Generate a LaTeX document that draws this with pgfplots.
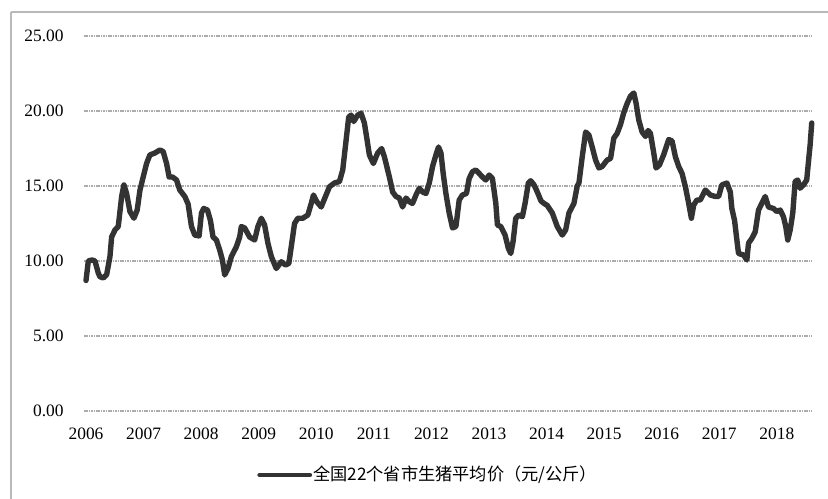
\documentclass[border=0pt]{standalone}
\usepackage{pgfplots}
\pgfplotsset{compat=1.18}
\usepackage{fontspec}
\setmainfont{Liberation Serif}
\newfontfamily\cjk{Noto Sans CJK SC}

% national average live-hog price, 22 provinces (yuan/kg)
\pgfplotstableread{
year     price
2006.000 8.70
2006.040 10.00
2006.104 10.07
2006.156 10.00
2006.213 9.20
2006.243 8.95
2006.300 8.87
2006.359 9.10
2006.416 10.30
2006.445 11.60
2006.503 12.07
2006.560 12.30
2006.619 14.30
2006.659 15.07
2006.705 14.50
2006.763 13.30
2006.832 12.85
2006.889 13.40
2006.936 14.70
2006.993 15.60
2007.052 16.50
2007.109 17.07
2007.196 17.20
2007.282 17.40
2007.340 17.30
2007.399 16.50
2007.444 15.60
2007.503 15.60
2007.572 15.40
2007.629 14.73
2007.716 14.30
2007.773 13.80
2007.832 12.30
2007.889 11.73
2007.964 11.67
2008.005 13.20
2008.045 13.50
2008.109 13.40
2008.161 12.70
2008.206 11.60
2008.265 11.40
2008.322 10.73
2008.369 10.07
2008.409 9.07
2008.466 9.50
2008.525 10.30
2008.612 10.95
2008.669 11.60
2008.698 12.30
2008.756 12.20
2008.842 11.60
2008.929 11.40
2008.986 12.30
2009.045 12.85
2009.102 12.40
2009.159 11.20
2009.218 10.30
2009.305 9.50
2009.392 9.95
2009.466 9.73
2009.523 9.84
2009.565 10.95
2009.622 12.50
2009.679 12.85
2009.766 12.85
2009.853 13.07
2009.912 13.84
2009.951 14.40
2010.009 13.95
2010.085 13.60
2010.159 14.30
2010.229 14.95
2010.315 15.20
2010.402 15.30
2010.459 16.07
2010.518 18.07
2010.563 19.60
2010.605 19.73
2010.650 19.30
2010.719 19.73
2010.778 19.84
2010.835 19.20
2010.882 18.07
2010.922 17.07
2010.991 16.50
2011.066 17.20
2011.135 17.50
2011.182 16.95
2011.239 16.07
2011.269 15.60
2011.326 14.60
2011.385 14.30
2011.442 14.20
2011.499 13.60
2011.558 14.20
2011.615 13.95
2011.672 13.84
2011.731 14.40
2011.789 14.85
2011.846 14.60
2011.905 14.50
2011.962 15.20
2012.019 16.30
2012.078 17.07
2012.123 17.60
2012.165 17.20
2012.205 15.80
2012.251 14.50
2012.308 13.20
2012.366 12.20
2012.425 12.30
2012.482 14.07
2012.539 14.40
2012.608 14.50
2012.655 15.50
2012.712 15.95
2012.771 16.07
2012.828 15.84
2012.886 15.60
2012.944 15.40
2013.002 15.73
2013.059 15.50
2013.118 13.84
2013.146 12.40
2013.204 12.30
2013.279 11.73
2013.336 10.84
2013.378 10.50
2013.418 11.30
2013.464 12.85
2013.522 13.07
2013.579 12.95
2013.626 13.84
2013.683 15.20
2013.724 15.35
2013.782 15.07
2013.839 14.60
2013.903 14.00
2013.955 13.84
2014.012 13.70
2014.099 13.20
2014.185 12.30
2014.272 11.73
2014.331 12.07
2014.388 13.20
2014.475 13.84
2014.532 15.00
2014.562 15.20
2014.619 16.95
2014.678 18.60
2014.735 18.40
2014.792 17.60
2014.851 16.73
2014.908 16.20
2014.965 16.30
2015.052 16.73
2015.111 16.84
2015.168 18.20
2015.225 18.50
2015.284 19.10
2015.341 19.90
2015.399 20.50
2015.458 21.00
2015.515 21.20
2015.555 20.50
2015.601 19.40
2015.659 18.60
2015.718 18.30
2015.763 18.70
2015.804 18.50
2015.861 17.20
2015.901 16.20
2015.960 16.40
2016.035 17.10
2016.121 18.10
2016.179 18.00
2016.237 16.95
2016.295 16.30
2016.352 15.84
2016.411 14.95
2016.468 13.84
2016.515 12.85
2016.555 13.73
2016.612 14.07
2016.671 14.07
2016.757 14.73
2016.844 14.40
2016.931 14.30
2016.988 14.30
2017.045 15.07
2017.132 15.20
2017.191 14.60
2017.218 13.50
2017.265 12.70
2017.305 11.40
2017.334 10.50
2017.421 10.40
2017.478 10.07
2017.508 11.20
2017.565 11.50
2017.624 11.95
2017.681 13.40
2017.738 13.84
2017.797 14.30
2017.854 13.60
2017.941 13.50
2017.998 13.30
2018.057 13.40
2018.114 12.95
2018.154 12.30
2018.189 11.40
2018.231 12.07
2018.276 13.20
2018.317 15.30
2018.362 15.40
2018.404 14.85
2018.461 15.07
2018.518 15.40
2018.548 16.60
2018.577 17.73
2018.605 19.20
}\hogprice

\begin{document}
\begin{tikzpicture}
\begin{axis}[
    scale only axis,
    width=364pt, height=187.5pt,
    xmin=2005.965, xmax=2018.61,
    ymin=0, ymax=25,
    clip=false,
    axis line style={draw=none},
    tick style={draw=none},
    xtick={2006,2007,...,2018},
    ytick={0,5,...,25},
    ymajorgrids,
    major grid style={gray!65, line width=0.6pt, dash pattern=on 0.8pt off 0.4pt},
    /pgf/number format/assume math mode=true,
    xticklabel={\pgfmathprintnumber[1000 sep={},fixed,precision=0]{\tick}},
    yticklabel={\pgfmathprintnumber[fixed,fixed zerofill,precision=2]{\tick}},
    xticklabel style={font=\fontsize{8.7}{10}\selectfont, inner sep=0pt, anchor=north, yshift=-8.5pt},
    yticklabel style={font=\fontsize{8.7}{10}\selectfont, inner sep=0pt, anchor=east, xshift=-10pt},
    legend style={at={(axis description cs:0.2376,0)}, anchor=west, yshift=-32pt,
        draw=none, fill=none, inner sep=0pt,
        font=\cjk\fontsize{8.6}{10}\selectfont,
        nodes={inner xsep=0.5pt, inner ysep=0pt}},
    legend image code/.code={\draw[#1, line width=2.4pt] (0pt,0pt) -- (25pt,0pt);},
]
\addplot[color=black!80, line width=2.7pt, line join=round, line cap=round]
    table[x=year, y=price] {\hogprice};
\addlegendentry{全国22个省市生猪平均价（元/公斤）}
\end{axis}
% outer chart frame: left and top edges
\draw[gray!55, line width=0.7pt] (-36.5pt,-50pt) -- (-36.5pt,199.5pt);
\draw[gray!55, line width=0.7pt] (-36.5pt,199.5pt) -- (372pt,199.5pt);
\pgfresetboundingbox
\path[use as bounding box] (-42pt,-43.5pt) rectangle (372pt,205.5pt);
\end{tikzpicture}
\end{document}
